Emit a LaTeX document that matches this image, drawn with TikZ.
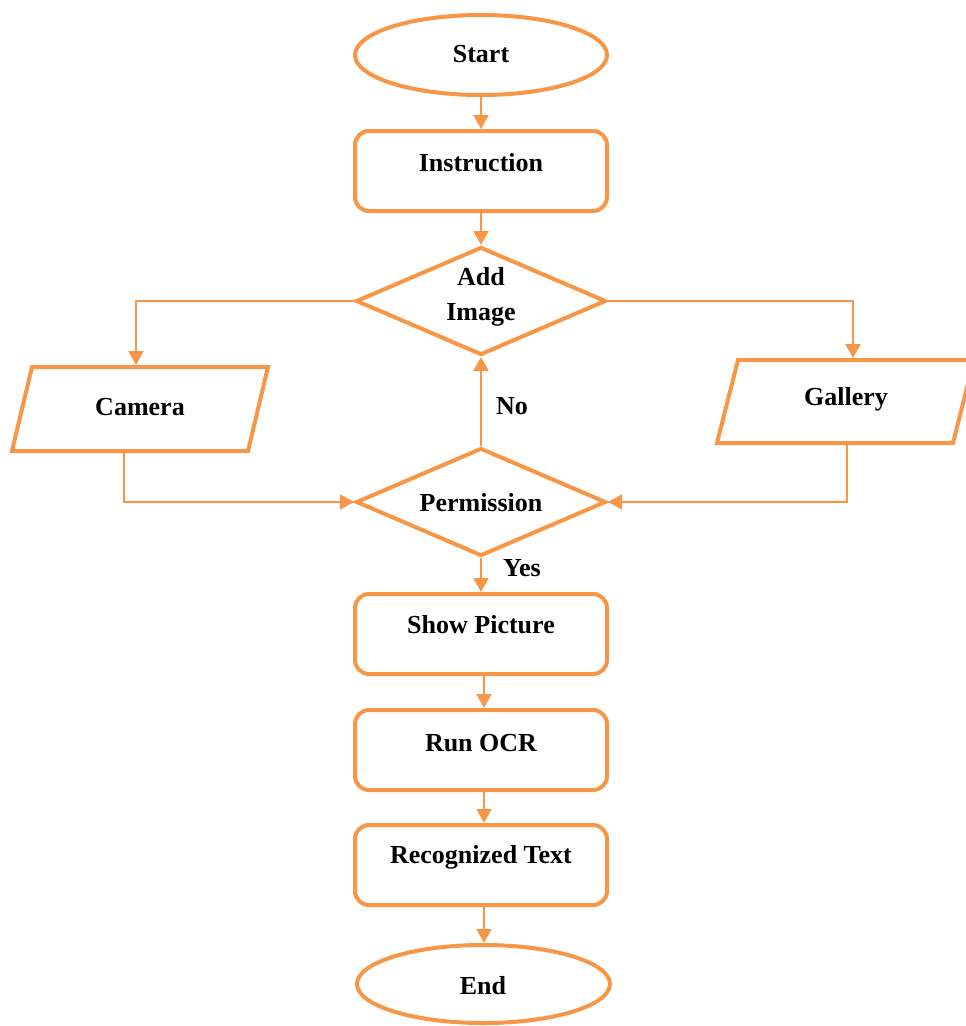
\documentclass[tikz,border=0pt]{standalone}
\usepackage{fontspec}
\setmainfont{Liberation Serif}
\usetikzlibrary{shapes.geometric,arrows.meta}
\definecolor{fcorange}{HTML}{F79646}
\tikzset{
  shapeline/.style={draw=fcorange,line width=4pt},
  termbox/.style={shapeline,ellipse,inner sep=0pt,minimum width=252pt,minimum height=80pt},
  procbox/.style={shapeline,rectangle,rounded corners=14pt,inner sep=0pt,minimum width=252pt,minimum height=80pt},
  decbox/.style={shapeline,diamond,inner sep=0pt,minimum width=250pt,minimum height=108pt},
  lbl/.style={font=\fontsize{26}{31}\selectfont\bfseries,text=black,inner sep=0pt},
  conn/.style={draw=fcorange,line width=2pt,-{Triangle[width=15pt,length=14pt]}},
}
\begin{document}
\begin{tikzpicture}[x=1pt,y=-1pt]
\useasboundingbox (0,0) rectangle (966,1026);
\begin{scope}
\clip (0,0) rectangle (966,1026);
% terminals and processes
\node[termbox] (start) at (481,55) {};
\node[lbl] (startt) at (481,54) {Start};
\node[procbox] (instr) at (481,171) {};
\node[lbl] (instrt) at (481,163) {Instruction};
\node[decbox] (addimg) at (481,301) {};
\node[lbl,align=center] (addimgt) at (481,297) {Add\\[4pt]Image};
\node[decbox] (perm) at (481,502) {};
\node[lbl] (permt) at (481,503) {Permission};
\node[procbox] (show) at (481,634) {};
\node[lbl] (showt) at (481,625) {Show Picture};
\node[procbox] (ocr) at (481,750) {};
\node[lbl] (ocrt) at (481,743) {Run OCR};
\node[procbox] (rec) at (481,865) {};
\node[lbl] (rect) at (481,857) {Recognized Text};
\node[termbox,minimum width=253pt,minimum height=78pt] (end) at (483.5,984) {};
\node[lbl] (endt) at (483,986) {End};
% parallelograms
\draw[shapeline,line join=miter] (32,367) -- (268,367) -- (248,451) -- (12,451) -- cycle;
\node[lbl] (camera) at (140,407) {Camera};
\coordinate (camtop) at (136,365);
\coordinate (cambot) at (124,453);
\draw[shapeline,line join=miter] (738,360) -- (974,360) -- (953,443) -- (717,443) -- cycle;
\node[lbl] (gallery) at (846,399) {Gallery};
\coordinate (galtop) at (853,358);
\coordinate (galbot) at (847,445);
% connectors
\draw[conn] (start.south) -- (instr.north);
\draw[conn] (instr.south) -- (addimg.north);
\draw[conn] (addimg.west) -| (camtop);
\draw[conn] (addimg.east) -| (galtop);
\draw[conn] (cambot) |- (perm.west);
\draw[conn] (galbot) |- (perm.east);
\draw[conn] (perm.north) -- node[lbl,right=14pt,pos=0.45] (no) {No} (addimg.south);
\draw[conn] (perm.south) -- (show.north);
\node[lbl] (yes) at (522,568) {Yes};
\draw[conn] ([xshift=3pt]show.south) -- ([xshift=3pt]ocr.north);
\draw[conn] ([xshift=3pt]ocr.south) -- ([xshift=3pt]rec.north);
\draw[conn] ([xshift=3pt]rec.south) -- ([xshift=3pt]rec.south |- end.north);
\end{scope}
\end{tikzpicture}
\end{document}
